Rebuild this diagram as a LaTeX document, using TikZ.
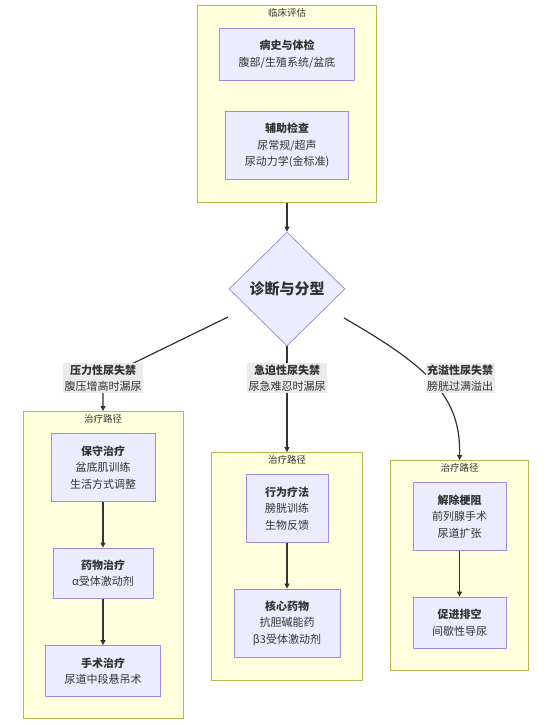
\documentclass[tikz,border=0pt]{standalone}
\usepackage{fontspec}
\setmainfont{Noto Sans CJK SC}
\usetikzlibrary{arrows.meta,positioning,shapes.geometric,fit,backgrounds}

\definecolor{nodefill}{HTML}{ECECFF}
\definecolor{nodeline}{HTML}{9F88E0}
\definecolor{clusfill}{HTML}{FFFFDE}
\definecolor{clusline}{HTML}{B8B850}
\definecolor{inkgray}{HTML}{333333}
\definecolor{labelbg}{HTML}{E8E8E8}

\begin{document}
\begin{tikzpicture}[
x=1pt, y=-1pt,
node distance=46pt,
font=\fontsize{11}{16.5}\selectfont, text=inkgray,
box/.style={draw=nodeline, fill=nodefill, line width=0.75pt, align=center, inner xsep=19pt, inner ysep=12pt},
decision/.style={diamond, draw=nodeline, fill=nodefill, line width=0.75pt, aspect=1, minimum width=116pt, minimum height=114pt, inner sep=0pt, font=\fontsize{15}{18}\selectfont\bfseries},
group/.style={draw=clusline, fill=clusfill, line width=0.75pt, inner sep=22pt},
grouptitle/.style={font=\fontsize{9.5}{11}\selectfont, inner sep=0pt, anchor=north, yshift=-3pt},
tag/.style={fill=labelbg!85, align=center, inner sep=1.5pt},
arrow/.style={-{Triangle[length=5pt,width=5pt]}, line width=1.2pt, draw=inkgray}
]
\useasboundingbox (0,0) rectangle (558,725);

% clinical assessment
\node[box] (hist) at (287,54) {\textbf{病史与体检}\\腹部/生殖系统/盆底};
\node[box] (aux) at (287,145.5) {\textbf{辅助检查}\\尿常规/超声\\尿动力学(金标准)};

\node[decision] (dia) at (287,289) {诊断与分型};
\coordinate (dsl) at (228,317);
\coordinate (dsr) at (344,318);

% edge labels
\node[tag] (labS) at (103,378) {\textbf{压力性尿失禁}\\腹压增高时漏尿};
\node[tag] (labU) at (287,378) {\textbf{急迫性尿失禁}\\尿急难忍时漏尿};
\node[tag] (labO) at (460,378) {\textbf{充溢性尿失禁}\\膀胱过满溢出};

% treatment paths
\node[box] (cons) at (103,467.5) {\textbf{保守治疗}\\盆底肌训练\\生活方式调整};
\node[box, below=of cons] (drug) {\textbf{药物治疗}\\α受体激动剂};
\node[box, below=of drug] (surg) {\textbf{手术治疗}\\尿道中段悬吊术};

\node[box] (beh) at (287,508.5) {\textbf{行为疗法}\\膀胱训练\\生物反馈};
\node[box, below=of beh] (core) {\textbf{核心药物}\\抗胆碱能药\\β3受体激动剂};

\node[box] (obst) at (459.5,516.5) {\textbf{解除梗阻}\\前列腺手术\\尿道扩张};
\node[box, below=of obst] (empty) {\textbf{促进排空}\\间歇性导尿};

\begin{scope}[on background layer]
\node[group, fit=(hist)(aux)] (clusT) {};
\node[group, fit=(cons)(drug)(surg)] (clusS) {};
\node[group, fit=(beh)(core)] (clusU) {};
\node[group, fit=(obst)(empty)] (clusO) {};
\draw[arrow] (clusT) -- (dia);
\draw[arrow] (dsl) -- (labS.center) -- (clusS.north);
\draw[arrow] (dia) -- (clusU);
\draw[arrow] (dsr) .. controls (431,368) and (461,398) .. (clusO.north);
\draw[arrow] (cons) -- (drug);
\draw[arrow] (drug) -- (surg);
\draw[arrow] (beh) -- (core);
\draw[arrow] (obst) -- (empty);
\end{scope}

\node[grouptitle] (titleT) at (clusT.north) {临床评估};
\node[grouptitle] (titleS) at (clusS.north) {治疗路径};
\node[grouptitle] (titleU) at (clusU.north) {治疗路径};
\node[grouptitle] (titleO) at (clusO.north) {治疗路径};
\end{tikzpicture}
\end{document}
